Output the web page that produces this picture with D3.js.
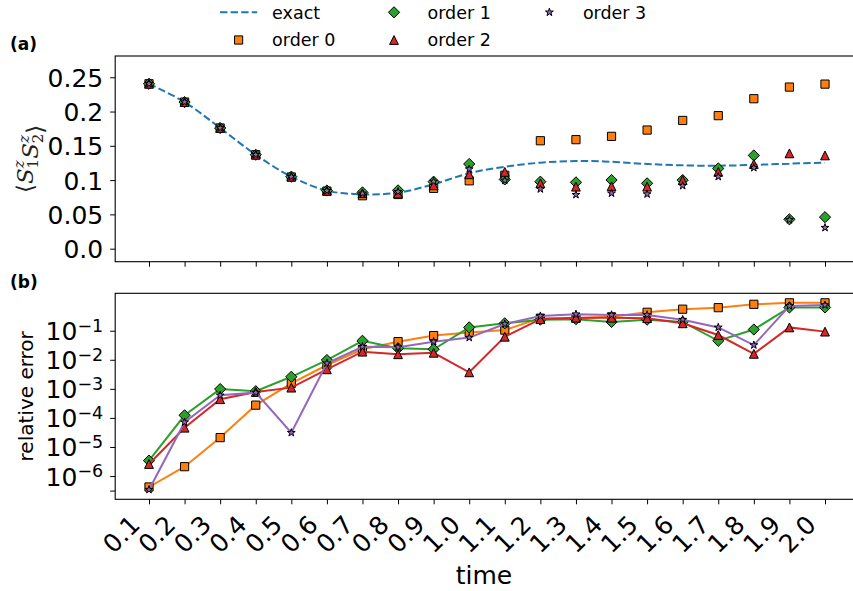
<!DOCTYPE html>
<html>
<head>
<meta charset="utf-8">
<script src="https://cdn.jsdelivr.net/npm/d3@7"></script>
<style>
  body { margin: 0; background: #fff; }
  svg { display: block; }
  text { font-family: "DejaVu Sans", sans-serif; }
</style>
</head>
<body>
<div id="chart"></div>
<script>
var times = [0.1, 0.2, 0.3, 0.4, 0.5, 0.6, 0.7, 0.8, 0.9, 1.0,
             1.1, 1.2, 1.3, 1.4, 1.5, 1.6, 1.7, 1.8, 1.9, 2.0];
var timeLabels = ["0.1", "0.2", "0.3", "0.4", "0.5", "0.6", "0.7", "0.8", "0.9", "1.0",
                  "1.1", "1.2", "1.3", "1.4", "1.5", "1.6", "1.7", "1.8", "1.9", "2.0"];

// (a) <S1z S2z>
var exactZZ  = [0.2405, 0.2138, 0.176, 0.137, 0.105, 0.0846, 0.0793, 0.0816, 0.094, 0.110,
                0.1195, 0.1254, 0.1278, 0.1268, 0.1235, 0.1215, 0.121, 0.1222, 0.124, 0.1254];
var order0ZZ = [0.2405, 0.2138, 0.176, 0.137, 0.1045, 0.0840, 0.0772, 0.0790, 0.0880, 0.099,
                0.107, 0.1574, 0.159, 0.1638, 0.173, 0.187, 0.194, 0.2187, 0.2357, 0.240];
var order1ZZ = [0.2405, 0.2138, 0.176, 0.137, 0.105, 0.0848, 0.082, 0.0850, 0.0977, 0.1235,
                0.101, 0.0977, 0.0967, 0.1001, 0.0953, 0.100, 0.117, 0.136, 0.0428, 0.046];
var order2ZZ = [0.2405, 0.2138, 0.176, 0.137, 0.105, 0.0844, 0.0808, 0.0804, 0.0924, 0.1085,
                0.112, 0.0953, 0.0904, 0.091, 0.0904, 0.100, 0.112, 0.1235, 0.139, 0.136];
var order3ZZ = [0.2405, 0.2138, 0.176, 0.137, 0.105, 0.0845, 0.0805, 0.0830, 0.0980, 0.116,
                0.0995, 0.087, 0.0787, 0.0808, 0.0796, 0.0918, 0.105, 0.118, 0.042, 0.0306];

// (b) relative error
var order0Err = [4.2e-7, 2.1e-6, 2.1e-5, 2.75e-4, 1.55e-3, 6.6e-3, 0.023, 0.042, 0.068, 0.087,
                 0.105, 0.27, 0.27, 0.30, 0.43, 0.55, 0.62, 0.81, 0.91, 0.91];
var order1Err = [3.4e-6, 1.23e-4, 9.8e-4, 8.3e-4, 2.6e-3, 9.8e-3, 0.045, 0.025, 0.023, 0.13,
                 0.18, 0.24, 0.25, 0.20, 0.24, 0.20, 0.045, 0.11, 0.63, 0.63];
var order2Err = [2.6e-6, 4.6e-5, 4.4e-4, 7.8e-4, 1.1e-3, 4.7e-3, 0.019, 0.0155, 0.0174, 3.7e-3,
                 0.062, 0.25, 0.28, 0.28, 0.27, 0.18, 0.071, 0.016, 0.13, 0.093];
var order3Err = [3.4e-7, 7.1e-5, 6.0e-4, 7.4e-4, 3.1e-5, 7.6e-3, 0.028, 0.027, 0.042, 0.058,
                 0.17, 0.32, 0.37, 0.35, 0.35, 0.24, 0.13, 0.032, 0.71, 0.76];

var zzTicks = [0, 0.05, 0.1, 0.15, 0.2, 0.25];
var zzTickLabels = ["0.0", "0.05", "0.1", "0.15", "0.2", "0.25"];
var errTicks = [1e-6, 1e-5, 1e-4, 1e-3, 1e-2, 1e-1, 3.16e-7];
var errTickExps = ["−6", "−5", "−4", "−3", "−2", "−1", ""];

var seriesNames = ["exact", "order 0", "order 1", "order 2", "order 3"];
var colors = ["#1f77b4", "#ff7f0e", "#2ca02c", "#d62728", "#9467bd"];
var shapes = ["line", "square", "diamond", "triangle", "star"];

var width = 853, height = 591;
var left = 115.2, right = 858.8;
var topA = 56, bottomA = 261.7;
var topB = 293.3, bottomB = 499.3;

var svg = d3.select("#chart").append("svg")
    .attr("width", width).attr("height", height)
    .attr("viewBox", "0 0 " + width + " " + height);

var xScale = d3.scaleLinear()
    .domain([0.1 - 0.095, 2.0 + 0.095])
    .range([left, right]);
var yA = d3.scaleLinear()
    .domain([-0.019, 0.281])
    .range([bottomA, topA]);
var yB = d3.scaleLog()
    .domain([Math.pow(10, -6.80), Math.pow(10, 0.287)])
    .range([bottomB, topB]);

function markerPath(shape) {
    var p = d3.path();
    if (shape === "square") {
        var s = 4.1;
        p.rect(-s, -s, 2 * s, 2 * s);
    } else if (shape === "diamond") {
        var d = 5.6;
        p.moveTo(0, -d); p.lineTo(d, 0); p.lineTo(0, d); p.lineTo(-d, 0); p.closePath();
    } else if (shape === "triangle") {
        var t = 4.4;
        p.moveTo(0, -t); p.lineTo(t, t); p.lineTo(-t, t); p.closePath();
    } else {
        return d3.symbol(d3.symbolStar, 19)();
    }
    return p.toString();
}

// frames
[[topA, bottomA], [topB, bottomB]].forEach(function (f) {
    svg.append("rect")
        .attr("x", left).attr("y", f[0])
        .attr("width", right - left).attr("height", f[1] - f[0])
        .attr("fill", "none").attr("stroke", "#000").attr("stroke-width", 1.1);
});

function styleAxis(g) {
    g.select(".domain").remove();
    g.selectAll(".tick line").attr("stroke", "#000").attr("stroke-width", 1);
    g.selectAll(".tick text").attr("fill", "#000")
        .style("font-family", "DejaVu Sans").style("font-size", "25px");
}

// (a) axes
svg.append("g")
    .attr("transform", "translate(0," + bottomA + ")")
    .call(d3.axisBottom(xScale).tickValues(times).tickFormat("").tickSize(5))
    .call(styleAxis);

svg.append("g")
    .attr("transform", "translate(" + left + ",0)")
    .call(d3.axisLeft(yA).tickValues(zzTicks)
        .tickFormat(function (d, i) { return zzTickLabels[i]; })
        .tickSize(5).tickPadding(7))
    .call(styleAxis)
    .selectAll(".tick text").attr("dy", "0.36em");

// (b) axes
var xAxisB = svg.append("g")
    .attr("transform", "translate(0," + bottomB + ")")
    .call(d3.axisBottom(xScale).tickValues(times)
        .tickFormat(function (d, i) { return timeLabels[i]; })
        .tickSize(5))
    .call(styleAxis);
xAxisB.selectAll(".tick text")
    .attr("y", 0).attr("dy", null)
    .attr("text-anchor", "end")
    .attr("transform", "translate(-8,27) rotate(-45)");

var yAxisB = svg.append("g")
    .attr("transform", "translate(" + left + ",0)")
    .call(d3.axisLeft(yB).tickValues(errTicks).tickFormat("")
        .tickSize(5).tickPadding(7))
    .call(styleAxis);
yAxisB.selectAll(".tick text").each(function (d, i) {
    if (errTickExps[i] === "") return;
    var t = d3.select(this).attr("dy", "0.36em");
    t.append("tspan").text("10");
    t.append("tspan").attr("dy", -8.5).style("font-size", "17.5px").text(errTickExps[i]);
});

// axis labels
svg.append("text")
    .attr("transform", "translate(33," + ((topB + bottomB) / 2) + ") rotate(-90)")
    .attr("text-anchor", "middle")
    .style("font-size", "20px")
    .text("relative error");

svg.append("text")
    .attr("x", 484).attr("y", 584)
    .attr("text-anchor", "middle")
    .style("font-size", "25px")
    .text("time");

var yl = svg.append("text")
    .attr("transform", "translate(33," + ((topA + bottomA) / 2) + ") rotate(-90)")
    .attr("text-anchor", "middle")
    .style("font-family", "DejaVu Serif")
    .style("font-size", "23px")
    .attr("fill", "#222");
yl.append("tspan").text("⟨");
[["1"], ["2"]].forEach(function (s) {
    yl.append("tspan").style("font-style", "italic").attr("dy", 0).text("S");
    yl.append("tspan").style("font-style", "italic").style("font-size", "15px").attr("dy", -9).text("z");
    yl.append("tspan").style("font-size", "15px").attr("dx", -8).attr("dy", 14).text(s[0]);
    yl.append("tspan").attr("dy", -5).text("");
});
yl.append("tspan").text("⟩");

// panel labels
svg.append("text").attr("x", 10).attr("y", 49.5)
    .style("font-size", "17px").style("font-weight", "bold").text("(a)");
svg.append("text").attr("x", 10).attr("y", 287.5)
    .style("font-size", "17px").style("font-weight", "bold").text("(b)");

// (a) data
var line = d3.line()
    .x(function (d, i) { return xScale(times[i]); })
    .curve(d3.curveCatmullRom);

svg.append("path")
    .attr("d", line.y(function (d) { return yA(d); })(exactZZ))
    .attr("fill", "none")
    .attr("stroke", colors[0])
    .attr("stroke-width", 2)
    .attr("stroke-dasharray", "7.4,3.2");

var zzSeries = [order0ZZ, order1ZZ, order2ZZ, order3ZZ];
zzSeries.forEach(function (vals, k) {
    svg.append("g").selectAll("path")
        .data(vals).enter().append("path")
        .attr("d", markerPath(shapes[k + 1]))
        .attr("transform", function (d, i) { return "translate(" + xScale(times[i]) + "," + yA(d) + ")"; })
        .attr("fill", colors[k + 1])
        .attr("stroke", "#000")
        .attr("stroke-width", 1);
});

// (b) data
var errSeries = [order0Err, order1Err, order2Err, order3Err];
var lineB = d3.line()
    .x(function (d, i) { return xScale(times[i]); })
    .y(function (d) { return yB(d); });
errSeries.forEach(function (vals, k) {
    svg.append("path")
        .attr("d", lineB(vals))
        .attr("fill", "none")
        .attr("stroke", colors[k + 1])
        .attr("stroke-width", 2);
    svg.append("g").selectAll("path")
        .data(vals).enter().append("path")
        .attr("d", markerPath(shapes[k + 1]))
        .attr("transform", function (d, i) { return "translate(" + xScale(times[i]) + "," + yB(d) + ")"; })
        .attr("fill", colors[k + 1])
        .attr("stroke", "#000")
        .attr("stroke-width", 1);
});

// legend (3 columns, filled column-wise)
var legend = svg.append("g");
seriesNames.forEach(function (name, i) {
    var col = Math.floor(i / 2), row = i % 2;
    var cx = 238.6 + col * 155.4, cy = 12.3 + row * 27.7;
    if (shapes[i] === "line") {
        legend.append("line")
            .attr("x1", cx - 18.6).attr("x2", cx + 18.6)
            .attr("y1", cy).attr("y2", cy)
            .attr("stroke", colors[i]).attr("stroke-width", 2)
            .attr("stroke-dasharray", "7.4,3.2");
    } else {
        legend.append("path")
            .attr("d", markerPath(shapes[i]))
            .attr("transform", "translate(" + cx + "," + cy + ")")
            .attr("fill", colors[i]).attr("stroke", "#000").attr("stroke-width", 1);
    }
    legend.append("text")
        .attr("x", cx + 33.5).attr("y", cy + 6.2)
        .style("font-size", "17.5px")
        .text(name);
});
</script>
</body>
</html>
